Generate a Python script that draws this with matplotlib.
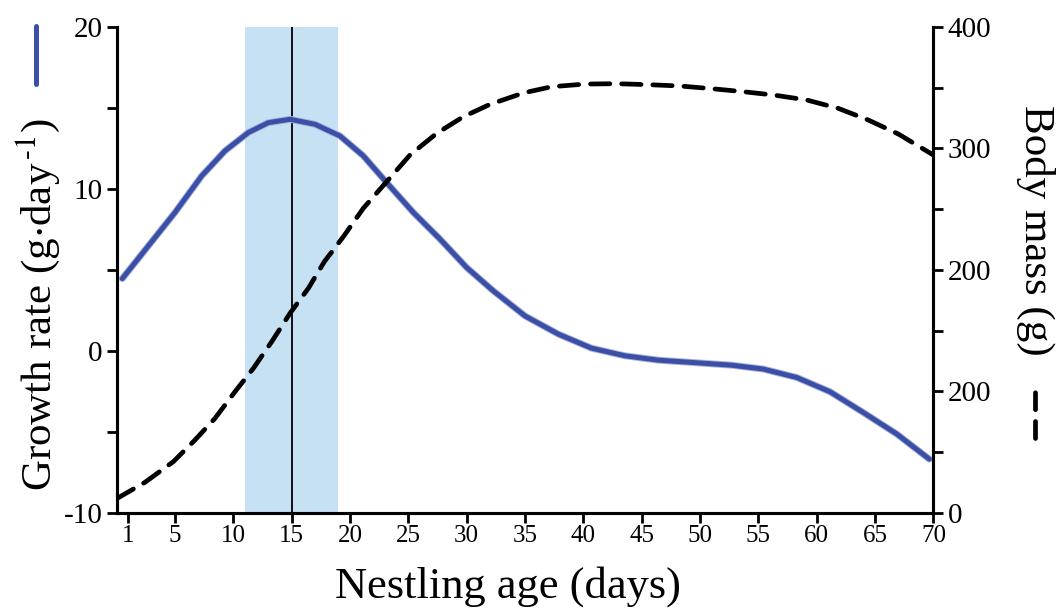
import numpy as np
import matplotlib
matplotlib.use("Agg")
import matplotlib.pyplot as plt
from matplotlib.lines import Line2D
from matplotlib.ticker import MultipleLocator

plt.rcParams["font.family"] = ["Liberation Serif", "DejaVu Serif"]
plt.rcParams["mathtext.fontset"] = "stix"
plt.rcParams["axes.unicode_minus"] = False

# ── Data ─────────────────────────────────────────────────────────────────────
days_rate = [0.49, 2.72, 5.0, 7.29, 9.29, 11.29, 13.0, 14.86, 17.0, 19.14,
             21.14, 23.14, 25.43, 27.71, 30.0, 32.28, 35.0, 37.85, 40.7,
             43.56, 46.42, 49.28, 52.7, 55.42, 58.28, 61.13, 63.98, 66.85, 69.64]
growth_rate = [4.46, 6.48, 8.54, 10.8, 12.35, 13.48, 14.09, 14.3, 13.99, 13.27,
               12.04, 10.39, 8.54, 6.9, 5.14, 3.7, 2.15, 1.03, 0.16,
               -0.31, -0.58, -0.72, -0.89, -1.13, -1.65, -2.53, -3.81, -5.14, -6.69]

days_mass = [0.0, 2.43, 4.86, 6.72, 8.43, 10.15, 11.72, 13.29, 14.86, 16.43,
             17.8, 19.43, 21.14, 23.14, 25.14, 27.43, 29.71, 32.0, 34.9,
             37.28, 40.14, 42.85, 45.56, 48.28, 51.0, 53.7, 56.27, 59.13,
             61.84, 64.41, 66.98, 69.98]
body_mass = [11.5, 25.0, 42.0, 59.9, 77.7, 99.7, 118.9, 140.8, 164.2, 184.8,
             206.7, 227.3, 250.7, 272.6, 294.6, 312.4, 326.1, 336.3, 345.8,
             350.8, 353.0, 353.3, 352.5, 351.4, 349.2, 346.7, 344.0, 339.9,
             333.0, 323.4, 311.9, 294.6]

peak_day = 15
peak_window = (11, 19)

x_ticks = [1, 5, 10, 15, 20, 25, 30, 35, 40, 45, 50, 55, 60, 65, 70]
left_ticks = [-10, 0, 10, 20]
right_ticks = [0, 100, 200, 300, 400]
right_ticklabels = ["0", "200", "200", "300", "400"]

# ── Chart ────────────────────────────────────────────────────────────────────
fig = plt.figure(figsize=(10.62, 6.12), dpi=100)
ax = fig.add_axes([0.1098, 0.1623, 0.7692, 0.7936])
ax2 = ax.twinx()

blue = "#3a4fa5"

ax.axvspan(*peak_window, color="#c7e1f4", lw=0, zorder=0)
ax.axvline(peak_day, color="black", lw=1.3, zorder=1)
ax.plot(days_rate, growth_rate, color="#aab3dc", lw=5.0, solid_capstyle="round",
        solid_joinstyle="round", zorder=2)
ax.plot(days_rate, growth_rate, color=blue, lw=3.6, solid_capstyle="round",
        solid_joinstyle="round", zorder=3)

ax2.plot(days_mass, body_mass, color="black", lw=3.4, dashes=(4.1, 2.5),
         dash_capstyle="round")

ax.set_xlim(0, 70)
ax.set_ylim(-10, 20)
ax2.set_ylim(0, 400)

ax.set_xticks(x_ticks)
ax.set_yticks(left_ticks)
ax.yaxis.set_minor_locator(MultipleLocator(5))
ax2.set_yticks(right_ticks)
ax2.set_yticklabels(right_ticklabels)
ax2.yaxis.set_minor_locator(MultipleLocator(50))

for a in (ax, ax2):
    a.spines["top"].set_visible(False)
    for s in a.spines.values():
        s.set_linewidth(2.2)
    a.tick_params(which="both", direction="out", length=7, width=2)
ax.tick_params(axis="y", labelsize=21, pad=3)
ax.tick_params(axis="x", labelsize=18, pad=2)
ax2.tick_params(axis="y", labelsize=21, pad=3)

# Axis titles with their line-style keys
fig.text(0.478, 0.024, "Nestling age (days)", fontsize=32, ha="center", va="baseline")
fig.text(0.0358, 0.502, "Growth rate (g$\\cdot$day$^{\\,\\text{-}1}$)", rotation=90,
         fontsize=31, ha="center", va="center")
fig.add_artist(Line2D([0.0339, 0.0339], [0.862, 0.957], color=blue, lw=3.6,
                      solid_capstyle="round", transform=fig.transFigure))
fig.text(0.9746, 0.624, "Body mass (g)", rotation=270, fontsize=31,
         ha="center", va="center")
fig.add_artist(Line2D([0.9746, 0.9746], [0.2843, 0.3595], color="black", lw=3.4,
                      dashes=(3.6, 2.5), dash_capstyle="round",
                      transform=fig.transFigure))

plt.savefig("out.png", dpi=100)
